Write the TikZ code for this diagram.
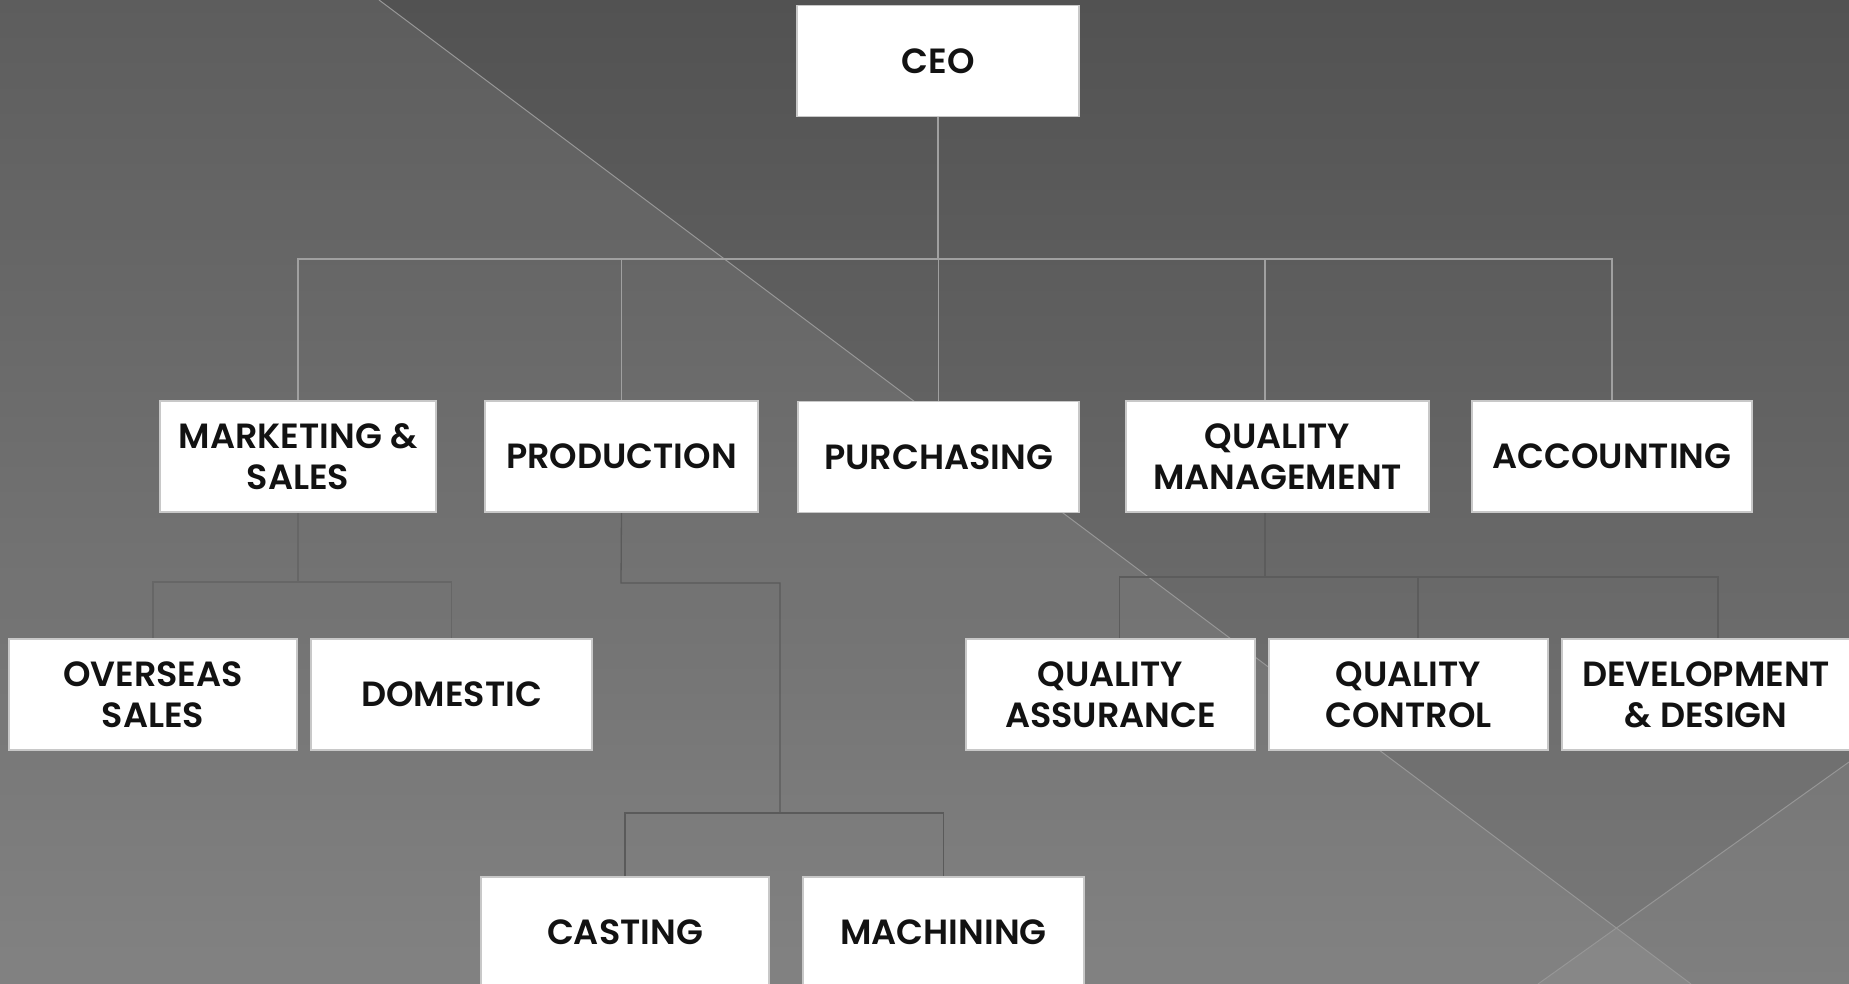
\documentclass[tikz,border=0pt]{standalone}
\usepackage{fontspec}
\setmainfont{Poppins}[UprightFont={* SemiBold}]
\usetikzlibrary{calc}
\definecolor{bgtop}{RGB}{82,82,82}
\definecolor{bgbot}{RGB}{121,121,121}
\definecolor{diagline}{RGB}{150,150,150}
\definecolor{topconn}{RGB}{160,160,160}
\definecolor{subconn}{RGB}{90,90,90}
\definecolor{qmconn}{RGB}{92,92,92}
\definecolor{mktconn}{RGB}{102,102,102}
\definecolor{boxline}{RGB}{200,200,200}
\definecolor{boxtext}{RGB}{18,18,18}
\tikzset{
  orgbox/.style={draw=boxline, line width=1.3pt, fill=white, inner sep=0pt,
    minimum height=111pt, align=center, text=boxtext,
    font=\fontsize{35}{41}\selectfont},
  topline/.style={draw=topconn, line width=1.1pt},
  subline/.style={draw=subconn, line width=1.3pt},
  qmline/.style={draw=qmconn, line width=1.2pt},
  mktline/.style={draw=mktconn, line width=1.1pt},
}
\begin{document}
\begin{tikzpicture}[x=1pt,y=-1pt]
\useasboundingbox (0,0) rectangle (1849,984);
\clip (0,0) rectangle (1849,984);
% background
\fill[top color=bgtop, bottom color=bgbot] (0,0) rectangle (1849,984);
\fill[white, fill opacity=0.065] (0,0) -- (379,0) -- (1691,984) -- (0,984) -- cycle;
\fill[white, fill opacity=0.05] (1849,762) -- (1538,984) -- (1849,984) -- cycle;
\draw[diagline, line width=1pt] (379,0) -- (1691,984);
\draw[diagline, line width=1pt] (1849,762) -- (1538,984);

% nodes (placed first so connectors can refer to them)
\node[orgbox, minimum width=282pt] (ceo) at (938,61) {CEO};
\node[orgbox, minimum width=276pt] (mkt) at (298,456.5) {MARKETING \&\\SALES};
\node[orgbox, minimum width=273pt] (prod) at (621.5,456.5) {PRODUCTION};
\node[orgbox, minimum width=281pt] (purch) at (938.5,457) {PURCHASING};
\node[orgbox, minimum width=303pt] (qm) at (1277.5,456.5) {QUALITY\\MANAGEMENT};
\node[orgbox, minimum width=280pt] (acc) at (1612,456.5) {ACCOUNTING};
\node[orgbox, minimum width=288pt] (ovs) at (153,694.5) {OVERSEAS\\SALES};
\node[orgbox, minimum width=281pt] (dom) at (451.5,694.5) {DOMESTIC};
\node[orgbox, minimum width=289pt] (qa) at (1110.5,694.5) {QUALITY\\ASSURANCE};
\node[orgbox, minimum width=279pt] (qc) at (1408.5,694.5) {QUALITY\\CONTROL};
\node[orgbox, minimum width=288pt] (dd) at (1706,694.5) {DEVELOPMENT\\\& DESIGN};
\node[orgbox, minimum width=288pt] (cast) at (625,932.5) {CASTING};
\node[orgbox, minimum width=281pt] (mach) at (943.5,932.5) {MACHINING};

% junction coordinates
\coordinate (bus) at (938,259);
\coordinate (mktj) at (298,582);
\coordinate (prodj) at (621,583);
\coordinate (prodk) at (780,583);
\coordinate (prodm) at (780,813);
\coordinate (qmtop) at (1265,401);
\coordinate (qmbot) at (1265,513);
\coordinate (qmj) at (1265,577);

% top level connectors
\draw[topline] (ceo.south) -- (bus);
\draw[topline] (mkt.north) |- (bus);
\draw[topline] (prod.north) |- (bus);
\draw[topline] (purch.north) -- (purch.north |- bus);
\draw[topline] (qmtop) |- (bus);
\draw[topline] (acc.north) |- (bus);

% marketing subtree
\draw[mktline] (mkt.south) -- (mktj);
\draw[mktline] (ovs.north) |- (mktj);
\draw[mktline] (dom.north) |- (mktj);

% production subtree
\draw[subline] (prod.south) -- (prodj) -- (prodk) -- (prodm);
\draw[subline] (cast.north) |- (prodm);
\draw[subline] (mach.north) |- (prodm);

% quality management subtree
\draw[qmline] (qmbot) -- (qmj);
\draw[qmline] ($(qa.north)+(9,0)$) |- (qmj);
\draw[qmline] ($(qc.north)+(9.5,0)$) |- (qmj);
\draw[qmline] ($(dd.north)+(12,0)$) |- (qmj);

% redraw boxes on top of connectors
\node[orgbox, minimum width=282pt] at (ceo) {CEO};
\node[orgbox, minimum width=276pt] at (mkt) {MARKETING \&\\SALES};
\node[orgbox, minimum width=273pt] at (prod) {PRODUCTION};
\node[orgbox, minimum width=281pt] at (purch) {PURCHASING};
\node[orgbox, minimum width=303pt] at (qm) {QUALITY\\MANAGEMENT};
\node[orgbox, minimum width=280pt] at (acc) {ACCOUNTING};
\node[orgbox, minimum width=288pt] at (ovs) {OVERSEAS\\SALES};
\node[orgbox, minimum width=281pt] at (dom) {DOMESTIC};
\node[orgbox, minimum width=289pt] at (qa) {QUALITY\\ASSURANCE};
\node[orgbox, minimum width=279pt] at (qc) {QUALITY\\CONTROL};
\node[orgbox, minimum width=288pt] at (dd) {DEVELOPMENT\\\& DESIGN};
\node[orgbox, minimum width=288pt] at (cast) {CASTING};
\node[orgbox, minimum width=281pt] at (mach) {MACHINING};
\end{tikzpicture}
\end{document}
